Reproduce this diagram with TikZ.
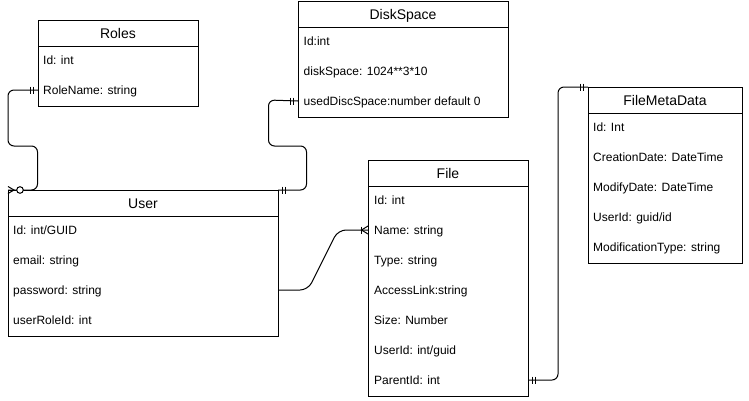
\documentclass[tikz,border=0pt]{standalone}
\usepackage{fontspec}
\setmainfont{Liberation Sans}
\usetikzlibrary{calc}
\tikzset{
  tbl/.style={draw=black, line width=1pt, fill=white, rectangle, inner sep=0pt, outer sep=0pt, anchor=north west},
  ttl/.style={inner sep=0pt, font=\fontsize{14}{16}\selectfont, text height=10pt, text depth=0pt},
  rowtxt/.style={inner sep=0pt, anchor=west, font=\fontsize{12}{14}\selectfont, text height=8.6pt, text depth=0pt},
  conn/.style={draw=black, line width=1pt, rounded corners=6pt},
  ermark/.style={draw=black, line width=1pt},
}
% name, x, y, width, nrows, title, textoffset, rows
\newcommand\ertable[8]{%
  \node[tbl, minimum width=#4pt, minimum height={(26+30*#5)*1pt}] (#1) at (#2,#3) {};
  \draw[line width=1pt] ([yshift=-26pt]#1.north west) -- ([yshift=-26pt]#1.north east);
  \node[ttl] (#1-title) at ([yshift=-13pt]#1.north) {#6};
  \foreach \t [count=\i] in {#8} {
    \node[rowtxt] (#1-\i) at ({#2+#7},{#3+40+30*(\i-1)}) {\t};
  }
}
\begin{document}
\begin{tikzpicture}[x=1pt,y=-1pt]
\useasboundingbox (0,0) rectangle (749,400);

\ertable{roles}{38}{20}{160}{2}{Roles}{5}{Id: int, RoleName: string}
\ertable{disk}{298}{1}{210}{3}{DiskSpace}{5.5}{Id:int, diskSpace: 1024**3*10, usedDiscSpace:number default 0}
\ertable{user}{8}{190}{270}{4}{User}{5}{Id: int/GUID, email: string, password: string, userRoleId: int}
\ertable{file}{368}{160}{160}{7}{File}{6}{Id: int, Name: string, Type: string, AccessLink:string, Size: Number, UserId: int/guid, ParentId: int}
\ertable{fmd}{588}{87}{154}{5}{FileMetaData}{5}{Id: Int, CreationDate: DateTime, ModifyDate: DateTime, UserId: guid/id, ModificationType: string}

% endpoints
\coordinate (eRoles) at (roles.west |- roles-2);
\coordinate (eUserNW) at (user.north west);
\coordinate (eUserNE) at (user.north east);
\coordinate (eDisk) at (disk.west |- disk-3);
\coordinate (eUserPw) at (user.east |- user-3);
\coordinate (eFileName) at (file.west |- file-2);
\coordinate (eFilePar) at (file.east |- file-7);
\coordinate (eFmd) at (fmd.north west);

% connectors
\draw[conn] (eRoles) -| (8,146) -| (37.5,190) -- (eUserNW);
\draw[conn] (eUserNE) -| (306.5,146) -| (268.5,100) -- (eDisk);
\draw[conn, rounded corners=8pt] (eUserPw) -- ++(30,0) -- ($(eFileName)+(-30,0)$) -- (eFileName);
\draw[conn] (eFilePar) -| (558,87) -- (eFmd);

% mandatory-one marks
\foreach \c/\d in {eRoles/-1, eDisk/-1, eUserNE/1, eFilePar/1, eFmd/-1} {
  \draw[ermark] ($(\c)+(4.5*\d,-3.5)$) -- ++(0,7);
  \draw[ermark] ($(\c)+(7.3*\d,-3.5)$) -- ++(0,7);
}
% one-to-many at File
\draw[ermark] ($(eFileName)+(-7,-3.5)$) -- ++(0,7);
\draw[ermark] ($(eFileName)+(0,-4)$) -- ($(eFileName)+(-6.5,0)$) -- ($(eFileName)+(0,4)$);
% zero-to-many at User
\draw[ermark] ($(eUserNW)+(0,-3.5)$) -- ($(eUserNW)+(6,0)$) -- ($(eUserNW)+(0,3.5)$);
\draw[ermark, fill=white] ($(eUserNW)+(12,0)$) circle (3.3);
\end{tikzpicture}
\end{document}
